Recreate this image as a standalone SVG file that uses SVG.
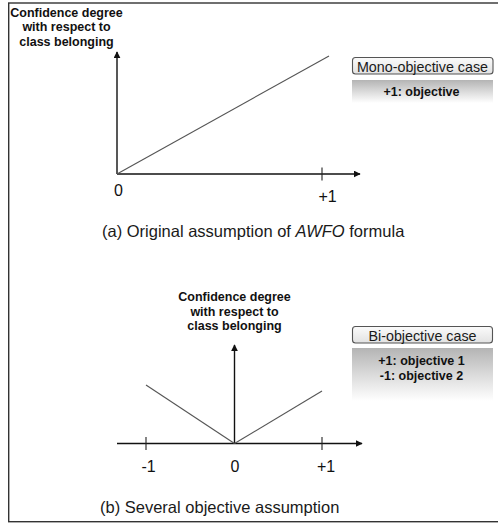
<svg xmlns="http://www.w3.org/2000/svg" width="498" height="524" viewBox="0 0 498 524">
  <defs>
    <style>
      .frame { fill: #ffffff; stroke: #333333; stroke-width: 1.4; }
      .axis { stroke: #111111; stroke-width: 1.4; fill: none; }
      .tick { stroke: #222222; stroke-width: 1.1; }
      .curve { stroke: #555555; stroke-width: 1.1; fill: none; }
      .ylabel { font-family: "Liberation Sans", Arial, sans-serif; font-size: 12.5px; font-weight: bold; fill: #111111; text-anchor: middle; }
      .num { font-family: "Liberation Sans", Arial, sans-serif; font-size: 16px; fill: #111111; text-anchor: middle; }
      .caption { font-family: "Liberation Sans", Arial, sans-serif; font-size: 16.5px; fill: #1a1a1a; }
      .title-box { fill: url(#titleFill); stroke: #555555; stroke-width: 1.1; }
      .title-text { font-family: "Liberation Sans", Arial, sans-serif; font-size: 14.3px; fill: #1a1a1a; text-anchor: middle; }
      .legend-text { font-family: "Liberation Sans", Arial, sans-serif; font-size: 12.5px; font-weight: bold; fill: #111111; text-anchor: middle; }
    </style>
    <marker id="arrow" viewBox="0 0 10 10" refX="9" refY="5" markerWidth="7" markerHeight="7" markerUnits="userSpaceOnUse" orient="auto">
      <path d="M0,0 L10,5 L0,10 z" fill="#111111"/>
    </marker>
    <linearGradient id="titleFill" x1="0" y1="0" x2="0" y2="1">
      <stop offset="0" stop-color="#fbfbfb"/>
      <stop offset="1" stop-color="#e2e2e2"/>
    </linearGradient>
    <linearGradient id="legendFill" x1="0" y1="0" x2="0" y2="1">
      <stop offset="0" stop-color="#b4b4b4"/>
      <stop offset="0.55" stop-color="#dedede"/>
      <stop offset="1" stop-color="#ffffff"/>
    </linearGradient>
  </defs>

  <!-- outer frame -->
  <rect class="frame" x="8.7" y="3" width="495" height="518.7"/>

  <!-- chart (a): single objective -->
  <g id="chart-a">
    <g id="chart-a-axes">
      <line class="axis" x1="117" y1="174" x2="117" y2="52" marker-end="url(#arrow)"/>
      <line class="axis" x1="117" y1="174" x2="360" y2="174" marker-end="url(#arrow)"/>
      <line class="tick" x1="322" y1="167.5" x2="322" y2="180.5"/>
    </g>
    <line id="chart-a-line" class="curve" x1="117" y1="174" x2="329" y2="56"/>
    <g id="chart-a-ylabel">
      <text class="ylabel" x="66.5" y="17">Confidence degree</text>
      <text class="ylabel" x="66.5" y="31">with respect to</text>
      <text class="ylabel" x="66.5" y="45.5">class belonging</text>
    </g>
    <text class="num" x="118.5" y="196">0</text>
    <text class="num" x="327.5" y="202">+1</text>
    <text class="caption" x="102" y="237">(a) Original assumption of <tspan font-style="italic">AWFO</tspan> formula</text>
  </g>

  <!-- legend: mono-objective -->
  <g id="legend-mono">
    <rect class="title-box" x="352.5" y="57.5" width="140.5" height="16.5" rx="3"/>
    <text class="title-text" x="422.5" y="71.5">Mono-objective case</text>
    <rect x="352" y="80" width="141" height="23" fill="url(#legendFill)"/>
    <text class="legend-text" x="421.5" y="95.5">+1: objective</text>
  </g>

  <!-- chart (b): two objectives -->
  <g id="chart-b">
    <g id="chart-b-axes">
      <line class="axis" x1="234.5" y1="443.5" x2="234.5" y2="345" marker-end="url(#arrow)"/>
      <line class="axis" x1="117" y1="443.5" x2="362" y2="443.5" marker-end="url(#arrow)"/>
      <line class="tick" x1="146" y1="437" x2="146" y2="450"/>
      <line class="tick" x1="322" y1="437" x2="322" y2="450"/>
    </g>
    <g id="chart-b-lines">
      <line class="curve" x1="146" y1="385" x2="234.5" y2="443.5"/>
      <line class="curve" x1="234.5" y1="443.5" x2="322" y2="391"/>
    </g>
    <g id="chart-b-ylabel">
      <text class="ylabel" x="234.5" y="301">Confidence degree</text>
      <text class="ylabel" x="234.5" y="315.5">with respect to</text>
      <text class="ylabel" x="234.5" y="330">class belonging</text>
    </g>
    <text class="num" x="148.5" y="472">-1</text>
    <text class="num" x="235" y="472">0</text>
    <text class="num" x="326" y="472">+1</text>
    <text class="caption" x="100" y="513">(b) Several objective assumption</text>
  </g>

  <!-- legend: bi-objective -->
  <g id="legend-bi">
    <rect class="title-box" x="352.5" y="326.5" width="140" height="16.5" rx="3"/>
    <text class="title-text" x="422.5" y="340.5">Bi-objective case</text>
    <rect x="352" y="348" width="141" height="53" fill="url(#legendFill)"/>
    <text class="legend-text" x="421.5" y="365">+1: objective 1</text>
    <text class="legend-text" x="421.5" y="380">-1: objective 2</text>
  </g>
</svg>
